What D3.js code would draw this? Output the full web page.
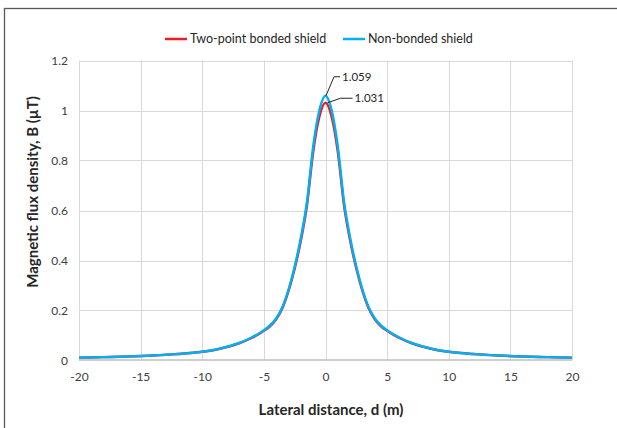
<!DOCTYPE html>
<html>
<head>
<meta charset="utf-8">
<script src="https://cdn.jsdelivr.net/npm/d3@7"></script>
<style>
  html, body { margin: 0; padding: 0; background: #fff; }
  svg { display: block; font-family: Lato, "Noto Sans", sans-serif; }
</style>
</head>
<body>
<svg id="chart" width="617" height="428"></svg>
<script>
// ---- data ----
const distance = [-20, -18, -16, -14, -12, -10, -9, -8, -7, -6, -5.5, -5, -4.5, -4, -3.5, -3, -2.5, -2, -1.5, -1, -0.5, 0,
                  0.5, 1, 1.5, 2, 2.5, 3, 3.5, 4, 4.5, 5, 5.5, 6, 7, 8, 9, 10, 12, 14, 16, 18, 20];
const nonBonded = [0.0115, 0.0135, 0.016, 0.020, 0.026, 0.035, 0.043, 0.055, 0.070, 0.092, 0.105, 0.121, 0.140, 0.168, 0.213, 0.283, 0.375, 0.490, 0.635, 0.855, 1.000, 1.059,
                   1.000, 0.855, 0.635, 0.490, 0.375, 0.283, 0.213, 0.168, 0.140, 0.121, 0.105, 0.092, 0.070, 0.055, 0.043, 0.035, 0.026, 0.020, 0.016, 0.0135, 0.0115];
const twoPoint  = [0.0115, 0.0135, 0.016, 0.020, 0.026, 0.035, 0.042, 0.054, 0.069, 0.090, 0.103, 0.119, 0.137, 0.165, 0.209, 0.278, 0.368, 0.480, 0.622, 0.835, 0.975, 1.031,
                   0.975, 0.835, 0.622, 0.480, 0.368, 0.278, 0.209, 0.165, 0.137, 0.119, 0.103, 0.090, 0.069, 0.054, 0.042, 0.035, 0.026, 0.020, 0.016, 0.0135, 0.0115];
const seriesNames = ["Two-point bonded shield", "Non-bonded shield"];
const seriesColors = ["#ED1C24", "#00B0F0"];
const xTicks = [-20, -15, -10, -5, 0, 5, 10, 15, 20];
const yTicks = [0, 0.2, 0.4, 0.6, 0.8, 1, 1.2];
const peakLabels = ["1.031", "1.059"];

// ---- layout ----
const svg = d3.select("#chart");
const M = { left: 79, right: 572, top: 60.5, bottom: 360.5 };
const x = d3.scaleLinear().domain([-20, 20]).range([M.left, M.right]);
const y = d3.scaleLinear().domain([0, 1.2]).range([M.bottom, M.top]);

// outer frame
svg.append("rect").attr("x", 4.5).attr("y", 8.5).attr("width", 700).attr("height", 500)
  .attr("fill", "none").attr("stroke", "#595959").attr("stroke-width", 1.3);

// grid
const grid = svg.append("g");
grid.selectAll("line.v").data(xTicks).join("line")
  .attr("x1", d => Math.round(x(d)) + 0.5).attr("x2", d => Math.round(x(d)) + 0.5)
  .attr("y1", M.top).attr("y2", M.bottom)
  .attr("stroke", "#D9D9D9").attr("stroke-width", 1);
grid.selectAll("line.h").data(yTicks.filter(d => d > 0)).join("line")
  .attr("x1", M.left).attr("x2", M.right)
  .attr("y1", d => Math.round(y(d)) + 0.5).attr("y2", d => Math.round(y(d)) + 0.5)
  .attr("stroke", "#D9D9D9").attr("stroke-width", 1);

// x axis line
svg.append("line").attr("x1", M.left).attr("x2", M.right)
  .attr("y1", M.bottom - 0.5).attr("y2", M.bottom - 0.5)
  .attr("stroke", "#BFBFBF").attr("stroke-width", 1.5);

// axes (labels only)
const xAxis = svg.append("g").attr("transform", `translate(0,${M.bottom})`)
  .call(d3.axisBottom(x).tickValues(xTicks).tickSize(0).tickPadding(12).tickFormat(d => String(d)));
xAxis.select(".domain").remove();
xAxis.selectAll("text").attr("font-size", 12).attr("fill", "#404040").attr("font-family", "Lato, sans-serif");

const yAxis = svg.append("g").attr("transform", `translate(${M.left},0)`)
  .call(d3.axisLeft(y).tickValues(yTicks).tickSize(0).tickPadding(11).tickFormat(d => String(d)));
yAxis.select(".domain").remove();
yAxis.selectAll("text").attr("font-size", 12).attr("fill", "#404040").attr("font-family", "Lato, sans-serif");

// lines
const rows = distance.map((d, i) => ({ d, a: twoPoint[i], b: nonBonded[i] }));
const line = key => d3.line().x(r => x(r.d)).y(r => y(r[key])).curve(d3.curveMonotoneX);
svg.append("path").datum(rows).attr("d", line("a"))
  .attr("fill", "none").attr("stroke", seriesColors[0]).attr("stroke-width", 2.5);
svg.append("path").datum(rows).attr("d", line("b"))
  .attr("fill", "none").attr("stroke", seriesColors[1]).attr("stroke-width", 2.5);

// peak annotations
const iPeak = distance.indexOf(0);
const ann = svg.append("g").attr("font-size", 11.5).attr("fill", "#262626");
{
  const px = x(0) + 0.5, py = y(nonBonded[iPeak]);
  ann.append("polyline").attr("points", `${px},${py} ${px + 8},${py - 19} ${px + 14},${py - 19}`)
    .attr("fill", "none").attr("stroke", "#262626").attr("stroke-width", 1);
  ann.append("text").attr("x", px + 16).attr("y", py - 19).attr("dy", "0.35em").text(peakLabels[1]);
}
{
  const px = x(0) + 2, py = y(twoPoint[iPeak]);
  ann.append("polyline").attr("points", `${px},${py} ${px + 13},${py - 4.5} ${px + 25},${py - 4.5}`)
    .attr("fill", "none").attr("stroke", "#262626").attr("stroke-width", 1);
  ann.append("text").attr("x", px + 27).attr("y", py - 4.5).attr("dy", "0.35em").text(peakLabels[0]);
}

// legend
const legend = svg.append("g").attr("font-size", 12.5).attr("fill", "#262626");
const legendX = [165, 343];
seriesNames.forEach((name, i) => {
  legend.append("line").attr("x1", legendX[i]).attr("x2", legendX[i] + 22)
    .attr("y1", 39).attr("y2", 39).attr("stroke", seriesColors[i]).attr("stroke-width", 2.5);
  legend.append("text").attr("x", legendX[i] + 25).attr("y", 39).attr("dy", "0.35em").text(name);
});

// axis titles
svg.append("text").attr("x", 331).attr("y", 410).attr("dy", "0.35em")
  .attr("text-anchor", "middle").attr("font-size", 15).attr("font-weight", "bold").attr("fill", "#262626")
  .text("Lateral distance, d (m)");
svg.append("text").attr("transform", "translate(33,192) rotate(-90)").attr("dy", "0.35em")
  .attr("text-anchor", "middle").attr("font-size", 15).attr("font-weight", "bold").attr("fill", "#262626")
  .text("Magnetic flux density, B (µT)");
</script>
</body>
</html>
